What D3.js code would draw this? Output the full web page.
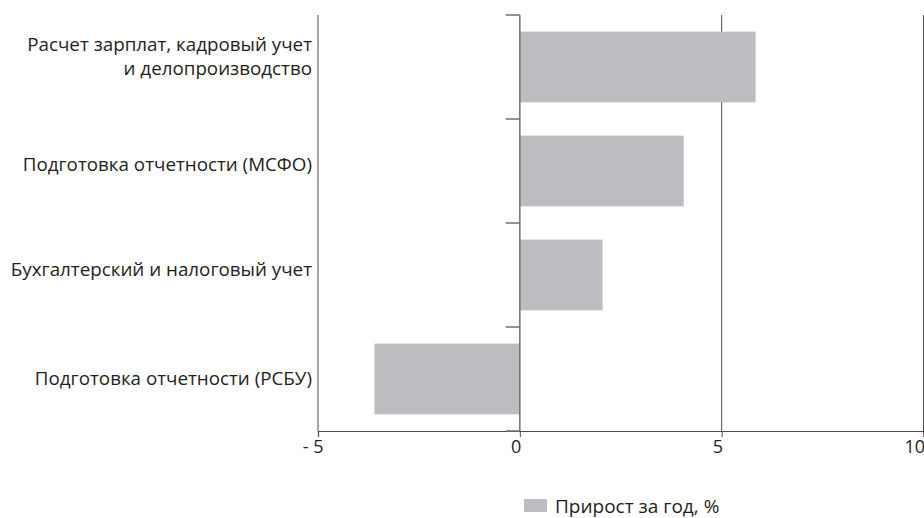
<!DOCTYPE html>
<html>
<head>
<meta charset="utf-8">
<script src="https://cdn.jsdelivr.net/npm/d3@7"></script>
<style>
  body { margin: 0; background: #fff; }
  text { font-family: "Open Sans", "Noto Sans", sans-serif; fill: #231f20; }
</style>
</head>
<body>
<div id="chart"></div>
<script>
const categories = [
  ["Расчет зарплат, кадровый учет", "и делопроизводство"],
  ["Подготовка отчетности (МСФО)"],
  ["Бухгалтерский и налоговый учет"],
  ["Подготовка отчетности (РСБУ)"]
];
const values = [5.84, 4.06, 2.05, -3.6];
const xTicks = [-5, 0, 5, 10];
const seriesName = "Прирост за год, %";

const width = 924, height = 518;
const margin = { top: 15, right: 0, bottom: 87, left: 318 };
const innerW = width - margin.left - margin.right,
      innerH = height - margin.top - margin.bottom;

const svg = d3.select("#chart").append("svg")
  .attr("width", width)
  .attr("height", height);

const g = svg.append("g")
  .attr("transform", `translate(${margin.left},${margin.top})`);

const x = d3.scaleLinear().domain([-5, 10]).range([0, innerW - 0.5]);
const y = d3.scaleBand()
  .domain(d3.range(categories.length))
  .range([0, innerH])
  .paddingInner(0.32)
  .paddingOuter(0.16);

const barColor = "#bcbdc0";
const axisColor = "#4d4d4d";

// vertical gridlines
g.selectAll("line.grid")
  .data(xTicks.filter(d => d !== 0))
  .join("line")
  .attr("class", "grid")
  .attr("x1", d => x(d)).attr("x2", d => x(d))
  .attr("y1", 0).attr("y2", innerH)
  .attr("stroke", axisColor).attr("stroke-width", 1);

// bars
g.selectAll("rect.bar")
  .data(values)
  .join("rect")
  .attr("class", "bar")
  .attr("x", d => x(Math.min(0, d)))
  .attr("width", d => Math.abs(x(d) - x(0)))
  .attr("y", (d, i) => y(i))
  .attr("height", y.bandwidth())
  .attr("fill", barColor);

// bottom axis
const xAxis = g.append("g")
  .attr("transform", `translate(0,${innerH})`)
  .call(d3.axisBottom(x).tickValues(xTicks).tickSize(6).tickPadding(3)
    .tickFormat(d => d < 0 ? "- " + Math.abs(d) : d));
xAxis.select(".domain").attr("stroke", axisColor).attr("stroke-width", 1.2);
xAxis.selectAll(".tick line").attr("stroke", axisColor);
xAxis.selectAll(".tick text")
  .attr("fill", "#231f20")
  .attr("text-anchor", "end")
  .attr("dx", d => d < 0 ? 5 : 1)
  .style("font-size", "18px");

// zero line with category ticks
const bounds = d3.range(categories.length + 1).map(i => i * innerH / categories.length);
g.append("line")
  .attr("x1", x(0)).attr("x2", x(0))
  .attr("y1", 0).attr("y2", innerH)
  .attr("stroke", "#6d6e71").attr("stroke-width", 1.5);
g.selectAll("line.ctick")
  .data(bounds)
  .join("line")
  .attr("class", "ctick")
  .attr("x1", x(0) - 14).attr("x2", x(0))
  .attr("y1", d => d).attr("y2", d => d)
  .attr("stroke", "#6d6e71").attr("stroke-width", 1.5);

// category labels
const labelOffsets = [-11, -7, -6, -1];
categories.forEach((lines, i) => {
  const cy = y(i) + y.bandwidth() / 2 + labelOffsets[i];
  const t = g.append("text")
    .attr("x", -6)
    .attr("text-anchor", "end")
    .style("font-size", "18.8px");
  lines.forEach((s, j) => {
    t.append("tspan")
      .attr("x", -6)
      .attr("y", cy + (j - (lines.length - 1) / 2) * 24)
      .attr("dy", "0.35em")
      .text(s);
  });
});

// legend
const legend = svg.append("g").attr("transform", "translate(524,499)");
legend.append("rect")
  .attr("width", 23).attr("height", 13)
  .attr("fill", barColor);
legend.append("text")
  .attr("x", 31).attr("y", 7)
  .attr("dy", "0.35em")
  .style("font-size", "19px")
  .text(seriesName);
</script>
</body>
</html>
